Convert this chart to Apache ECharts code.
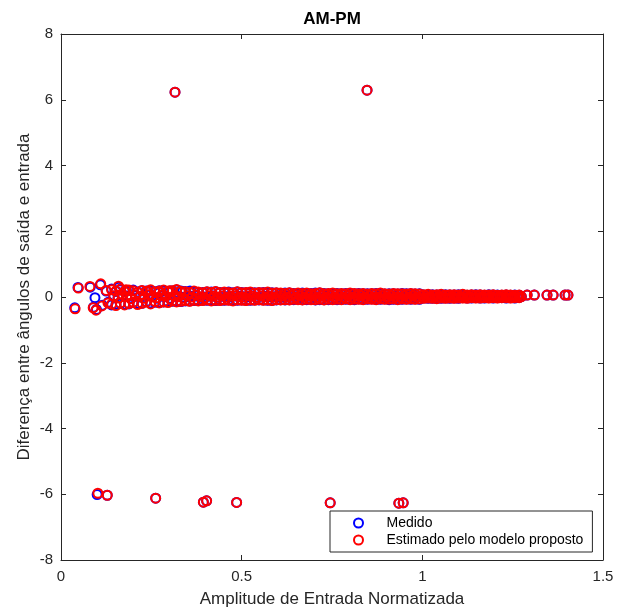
<!DOCTYPE html>
<html>
<head>
<meta charset="utf-8">
<title>AM-PM</title>
<script src="https://cdn.jsdelivr.net/npm/echarts@6/dist/echarts.min.js"></script>
<style>
  html, body { margin: 0; padding: 0; background: #fff; }
  #chart { width: 617px; height: 608px; }
</style>
</head>
<body>
<div id="chart"></div>
<script>
// Axis ticks
const xTicks = [0, 0.5, 1, 1.5];
const yTicks = [-8, -6, -4, -2, 0, 2, 4, 6, 8];

// Dense band of normalized input amplitudes around zero phase difference
const bandAmp = [0.140,0.152,0.164,0.176,0.188,0.200,0.212,0.224,0.236,0.248,0.260,0.272,0.284,0.296,0.308,0.320,0.332,
  0.344,0.356,0.368,0.380,0.392,0.404,0.416,0.428,0.440,0.452,0.464,0.476,0.488,0.500,0.512,0.524,0.536,0.548,0.560,0.572,0.584,0.596,
  0.608,0.620,0.632,0.644,0.656,0.668,0.680,0.692,0.704,0.716,0.728,0.740,0.752,0.764,0.776,0.788,0.800,0.812,0.824,0.836,0.848,0.860,0.872,0.884,0.896,0.908,0.920,0.932,0.944,0.956,0.968,0.980,0.992,
  1.004,1.016,1.028,1.040,1.052,1.064,1.076,1.088,1.100,1.112,1.124,1.136,1.148,1.160,1.172,1.184,1.196,1.208,1.220,1.232,1.244,1.256,1.268];
const midAmp = [0.146,0.158,0.170,0.182,0.194,0.206,0.218,0.230,0.242,0.254,0.266,0.278,0.290,0.302,0.314,0.326,0.338,
  0.350,0.362,0.374,0.386,0.398,0.410,0.422,0.434,0.446,0.458,0.470,0.482,0.494,0.506,0.518,0.530,0.542,0.554,0.566,0.578,0.590,0.602,
  0.614,0.626,0.638,0.650,0.662,0.674,0.686,0.698,0.710,0.722,0.734,0.746,0.758,0.770,0.782,0.794,0.806,0.818,0.830,0.842,0.854,0.866,0.878,0.890,0.902,0.914,0.926,0.938,0.950,0.962,0.974,0.986,0.998,
  1.010,1.022,1.034,1.046,1.058,1.070,1.082,1.094,1.106,1.118,1.130,1.142,1.154,1.166,1.178,1.190,1.202,1.214,1.226,1.238,1.250,1.262,1.274];

// Measured phase difference: upper edge, middle and lower edge of the band
const medUpper = [0.24,0.17,0.22,0.18,0.20,0.21,0.15,0.19,0.18,0.20,0.16,0.19,0.20,0.17,0.18,0.21,0.18,
  0.17,0.15,0.17,0.14,0.14,0.15,0.15,0.16,0.14,0.14,0.15,0.13,0.15,0.14,0.13,0.14,0.13,0.13,0.14,0.14,0.13,0.12,
  0.11,0.12,0.12,0.11,0.11,0.12,0.11,0.11,0.12,0.12,0.11,0.10,0.11,0.11,0.10,0.11,0.11,0.10,0.11,0.10,0.10,0.10,0.11,0.11,0.09,0.10,0.10,0.09,0.11,0.10,0.10,0.09,0.10,
  0.06,0.07,0.07,0.06,0.07,0.07,0.06,0.06,0.07,0.07,0.05,0.06,0.07,0.06,0.05,0.07,0.06,0.06,0.05,0.06,0.05,0.06,0.05];
const medMid = [0.02,-0.01,0.06,0.03,-0.03,0.04,0.00,-0.02,0.05,0.02,-0.04,0.03,0.01,-0.04,0.02,0.03,-0.01,
  0.01,0.02,0.03,-0.01,0.00,0.02,0.03,-0.01,0.02,0.01,0.00,0.03,0.02,0.01,0.01,0.03,0.00,0.02,0.02,0.01,0.01,0.00,
  0.01,0.02,0.02,0.01,0.01,0.02,0.02,0.01,0.01,0.03,0.02,0.02,0.00,0.01,0.01,0.03,0.02,0.01,0.02,0.02,0.01,0.01,0.02,0.01,0.00,0.01,0.02,0.01,0.01,0.02,0.01,0.01,0.01,
  0.01,0.02,0.01,0.01,0.02,0.01,0.02,0.01,0.01,0.01,0.02,0.01,0.01,0.02,0.01,0.01,0.02,0.01,0.01,0.01,0.02,0.01,0.01];
const medLower = [-0.24,-0.23,-0.20,-0.22,-0.21,-0.17,-0.20,-0.19,-0.14,-0.18,-0.16,-0.17,-0.15,-0.14,-0.13,-0.14,-0.14,
  -0.12,-0.12,-0.11,-0.11,-0.10,-0.10,-0.11,-0.11,-0.10,-0.10,-0.09,-0.11,-0.10,-0.09,-0.10,-0.10,-0.09,-0.09,-0.09,-0.10,-0.10,-0.09,
  -0.08,-0.09,-0.08,-0.08,-0.07,-0.08,-0.08,-0.07,-0.09,-0.08,-0.08,-0.08,-0.07,-0.08,-0.07,-0.07,-0.07,-0.08,-0.06,-0.07,-0.07,-0.06,-0.07,-0.07,-0.06,-0.08,-0.07,-0.07,-0.07,-0.06,-0.07,-0.06,-0.07,
  -0.03,-0.04,-0.04,-0.04,-0.04,-0.03,-0.04,-0.03,-0.04,-0.02,-0.03,-0.03,-0.02,-0.03,-0.03,-0.02,-0.03,-0.02,-0.02,-0.03,-0.02,-0.03,-0.01];

// Phase difference estimated by the proposed model: upper edge, middle and lower edge
const estUpper = [0.22,0.18,0.24,0.16,0.21,0.19,0.14,0.20,0.17,0.22,0.15,0.18,0.21,0.16,0.19,0.23,0.17,
  0.16,0.14,0.18,0.15,0.13,0.16,0.14,0.17,0.13,0.15,0.14,0.12,0.16,0.13,0.14,0.15,0.12,0.14,0.13,0.15,0.12,0.13,
  0.12,0.11,0.13,0.10,0.12,0.11,0.12,0.10,0.11,0.13,0.10,0.11,0.12,0.10,0.11,0.10,0.12,0.11,0.10,0.11,0.09,0.11,0.10,0.12,0.10,0.09,0.11,0.10,0.10,0.09,0.11,0.10,0.09,
  0.07,0.08,0.06,0.07,0.08,0.06,0.07,0.07,0.06,0.08,0.06,0.07,0.06,0.07,0.06,0.06,0.07,0.05,0.06,0.07,0.06,0.05,0.06];
const estMid = [0.04,-0.03,0.08,0.01,-0.05,0.06,0.02,-0.04,0.07,0.00,-0.02,0.05,0.03,-0.06,0.04,0.01,-0.03,
  0.03,0.00,0.05,0.01,-0.02,0.04,0.02,0.00,0.03,-0.01,0.02,0.04,0.01,0.00,0.03,0.02,-0.01,0.03,0.01,0.02,0.00,0.02,
  0.02,0.01,0.03,0.00,0.02,0.01,0.03,0.02,0.00,0.02,0.01,0.03,0.01,0.02,0.00,0.02,0.01,0.02,0.03,0.01,0.02,0.00,0.01,0.02,0.01,0.02,0.01,0.00,0.02,0.01,0.02,0.01,0.02,
  0.02,0.01,0.02,0.01,0.02,0.02,0.01,0.02,0.01,0.02,0.01,0.02,0.02,0.01,0.02,0.01,0.02,0.01,0.02,0.02,0.01,0.02,0.01];
const estLower = [-0.22,-0.26,-0.18,-0.24,-0.20,-0.16,-0.23,-0.19,-0.15,-0.21,-0.14,-0.18,-0.15,-0.17,-0.12,-0.15,-0.13,
  -0.11,-0.13,-0.10,-0.12,-0.11,-0.09,-0.12,-0.10,-0.11,-0.09,-0.10,-0.12,-0.09,-0.10,-0.11,-0.09,-0.10,-0.08,-0.10,-0.09,-0.11,-0.08,
  -0.09,-0.08,-0.09,-0.07,-0.08,-0.09,-0.07,-0.08,-0.08,-0.07,-0.09,-0.07,-0.08,-0.07,-0.08,-0.06,-0.08,-0.07,-0.07,-0.08,-0.06,-0.07,-0.08,-0.06,-0.07,-0.07,-0.06,-0.08,-0.06,-0.07,-0.06,-0.07,-0.06,
  -0.04,-0.03,-0.04,-0.05,-0.03,-0.04,-0.03,-0.04,-0.03,-0.03,-0.04,-0.02,-0.03,-0.03,-0.02,-0.03,-0.02,-0.03,-0.02,-0.02,-0.03,-0.02,-0.02];

// Scattered low-amplitude samples, isolated high-amplitude samples and phase-wrap outliers
const medSparse = [[0.047,0.29],[0.038,-0.33],[0.081,0.30],[0.109,0.37],[0.094,-0.02],[0.090,-0.31],[0.098,-0.38],
  [0.114,-0.25],[0.160,0.30],[0.125,0.18],[0.131,-0.16],[0.181,0.20],[0.242,0.17],[0.272,0.14],[0.302,0.18],[0.336,0.16],[0.357,0.18],
  [1.290,0.06],[1.310,0.06],[1.345,0.06],[1.362,0.06],[1.395,0.06],[1.403,0.06],
  [0.3155,6.23],[0.847,6.29],[0.100,-6.01],[0.128,-6.03],[0.262,-6.12],[0.394,-6.24],[0.403,-6.20],[0.486,-6.25],[0.745,-6.26],[0.935,-6.27],[0.947,-6.26]];
const estSparse = [[0.048,0.27],[0.039,-0.36],[0.080,0.32],[0.110,0.40],[0.089,-0.33],[0.097,-0.40],
  [0.113,-0.27],[0.159,0.33],[0.125,0.20],[0.130,-0.18],[0.180,0.22],[0.240,0.18],[0.270,0.15],[0.300,0.19],[0.330,0.17],
  [1.290,0.06],[1.310,0.06],[1.345,0.06],[1.362,0.06],[1.395,0.06],[1.403,0.06],
  [0.3155,6.23],[0.847,6.29],[0.102,-5.97],[0.128,-6.03],[0.262,-6.12],[0.394,-6.24],[0.403,-6.20],[0.486,-6.25],[0.745,-6.26],[0.935,-6.27],[0.947,-6.26]];

const seriesNames = ['Medido', 'Estimado pelo modelo proposto'];
const seriesColors = ['#0000ff', '#ff0000'];

function pairs(xs, ys) {
  const out = [];
  const n = Math.min(xs.length, ys.length);
  for (let i = 0; i < n; i++) out.push([xs[i], ys[i]]);
  return out;
}

const medData = pairs(bandAmp, medUpper).concat(pairs(midAmp, medMid), pairs(bandAmp, medLower), medSparse);
const estData = pairs(bandAmp, estUpper).concat(pairs(midAmp, estMid), pairs(bandAmp, estLower), estSparse);

const FONT = '"Liberation Sans", Arial, Helvetica, sans-serif';
const AXIS_COLOR = '#262626';

const ringStyle = (c) => ({ color: 'rgba(0,0,0,0)', borderColor: c, borderWidth: 2, opacity: 1 });

const chart = echarts.init(document.getElementById('chart'), null, { renderer: 'canvas' });

const commonX = {
  type: 'value', min: xTicks[0], max: xTicks[xTicks.length - 1], interval: 0.5,
  axisLine: { show: true, onZero: false, lineStyle: { color: AXIS_COLOR, width: 1 } },
  axisTick: { show: true, inside: true, length: 5, lineStyle: { color: AXIS_COLOR } },
  splitLine: { show: false }
};
const commonY = {
  type: 'value', min: yTicks[0], max: yTicks[yTicks.length - 1], interval: 2,
  axisLine: { show: true, onZero: false, lineStyle: { color: AXIS_COLOR, width: 1 } },
  axisTick: { show: true, inside: true, length: 5, lineStyle: { color: AXIS_COLOR } },
  splitLine: { show: false }
};

chart.setOption({
  animation: false,
  backgroundColor: '#ffffff',
  title: {
    text: 'AM-PM',
    left: 332, top: 11, textAlign: 'center', padding: 0,
    textStyle: { fontFamily: FONT, fontSize: 17, fontWeight: 'bold', color: '#000' }
  },
  grid: { left: 61, top: 34, right: 14, bottom: 48, containLabel: false, outerBoundsMode: 'none' },
  legend: {
    orient: 'vertical',
    left: 330, top: 511,
    padding: [5, 9, 5, 23],
    itemGap: 3,
    itemWidth: 46, itemHeight: 9,
    borderColor: AXIS_COLOR, borderWidth: 1, backgroundColor: '#fff',
    textStyle: { fontFamily: FONT, fontSize: 14, color: '#000', lineHeight: 14 },
    data: seriesNames.map((n, i) => ({ name: n, icon: 'circle', itemStyle: ringStyle(seriesColors[i]) }))
  },
  xAxis: [
    Object.assign({}, commonX, {
      position: 'bottom',
      axisLabel: { show: true, margin: 9, fontFamily: FONT, fontSize: 15, color: AXIS_COLOR },
      name: 'Amplitude de Entrada Normatizada', nameLocation: 'middle', nameGap: 31, nameMoveOverlap: false,
      nameTextStyle: { fontFamily: FONT, fontSize: 17, color: AXIS_COLOR }
    }),
    Object.assign({}, commonX, { position: 'top', axisLabel: { show: false } })
  ],
  yAxis: [
    Object.assign({}, commonY, {
      position: 'left',
      axisLabel: { show: true, margin: 8, fontFamily: FONT, fontSize: 15, color: AXIS_COLOR },
      name: 'Diferença entre ângulos de saída e entrada', nameLocation: 'middle', nameGap: 28, nameMoveOverlap: false,
      nameTextStyle: { fontFamily: FONT, fontSize: 17, color: AXIS_COLOR }
    }),
    Object.assign({}, commonY, { position: 'right', axisLabel: { show: false } })
  ],
  series: [
    {
      name: seriesNames[0], type: 'scatter', xAxisIndex: 0, yAxisIndex: 0,
      symbol: 'circle', symbolSize: 9, itemStyle: ringStyle(seriesColors[0]),
      emphasis: { disabled: true }, data: medData, z: 2
    },
    {
      name: seriesNames[1], type: 'scatter', xAxisIndex: 0, yAxisIndex: 0,
      symbol: 'circle', symbolSize: 9, itemStyle: ringStyle(seriesColors[1]),
      emphasis: { disabled: true }, data: estData, z: 3
    }
  ]
});
</script>
</body>
</html>
